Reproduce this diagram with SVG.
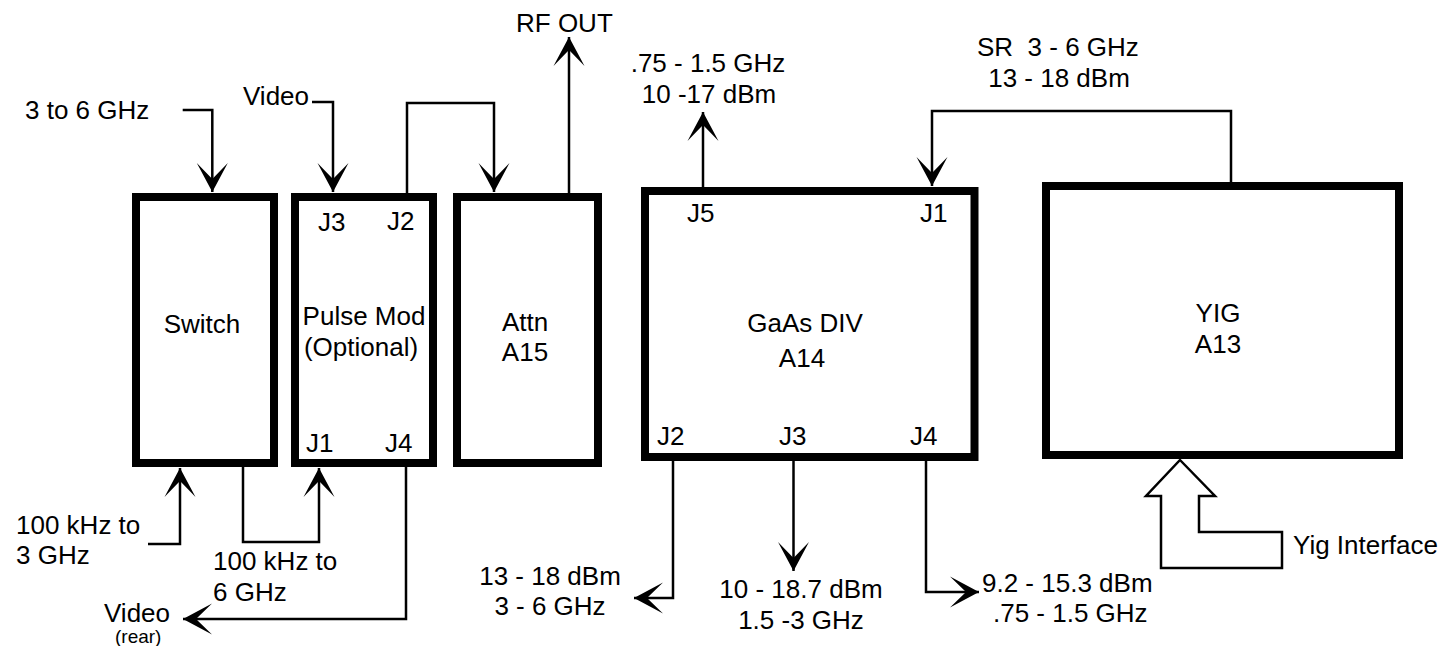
<svg xmlns="http://www.w3.org/2000/svg" width="1450" height="646" viewBox="0 0 1450 646">
<style>
text{font-family:"Liberation Sans",Arial,Helvetica,sans-serif;font-size:26px;fill:#000;white-space:pre}
.c{text-anchor:middle}
.sm{font-size:19px}
.box{fill:#fff;stroke:#000;stroke-width:8;stroke-linejoin:miter}
.ln{fill:none;stroke:#000;stroke-width:2.5;stroke-linejoin:miter}
.arr{marker-end:url(#ah)}
</style>
<defs>
<marker id="ah" viewBox="-31 -17 32 34" markerWidth="32" markerHeight="34" refX="0" refY="0" orient="auto" markerUnits="userSpaceOnUse">
<path d="M0,0 L-29,-15.5 L-13,0 L-29,15.5 Z" fill="#000"/>
</marker>
</defs>
<rect width="1450" height="646" fill="#fff"/>

<g id="connectors">
<path class="ln arr" d="M182.7,110 H212.3 V192"/>
<path class="ln arr" d="M312,102 H333 V192"/>
<path class="ln arr" d="M407,193 V103 H494 V192"/>
<path class="ln arr" d="M569,193 V37"/>
<path class="ln arr" d="M148,544 H180 V468"/>
<path class="ln arr" d="M243,467 V542 H319 V468"/>
<path class="ln arr" d="M406,467 V619 H183"/>
<path class="ln arr" d="M703,187 V112"/>
<path class="ln arr" d="M1231,182 V111 H932 V186"/>
<path class="ln arr" d="M673,461 V598 H634"/>
<path class="ln arr" d="M793.5,461 V571"/>
<path class="ln arr" d="M926,461 V592 H979"/>
<path id="yig-interface-arrow" class="ln" fill="#fff" d="M1180,460 L1215,496 L1199,496 L1199,532 L1282,532 L1282,568 L1161,568 L1161,496 L1146,496 Z"/>
</g>

<g id="switch">
<rect class="box" x="136" y="197" width="138" height="266"/>
<text class="c" x="202" y="333">Switch</text>
</g>

<g id="pulse-mod">
<rect class="box" x="295" y="197" width="138" height="266"/>
<text class="c" x="364" y="325">Pulse Mod</text>
<text class="c" x="361" y="356">(Optional)</text>
<text x="318" y="231">J3</text>
<text x="387" y="230">J2</text>
<text x="306" y="452">J1</text>
<text x="385" y="452">J4</text>
</g>

<g id="attn">
<rect class="box" x="457" y="197" width="141" height="266"/>
<text class="c" x="525" y="331">Attn</text>
<text class="c" x="525" y="361">A15</text>
</g>

<g id="gaas-div">
<rect class="box" x="645" y="191" width="329.5" height="266"/>
<text class="c" x="805" y="332">GaAs DIV</text>
<text class="c" x="802" y="367">A14</text>
<text x="687" y="222">J5</text>
<text x="920" y="222">J1</text>
<text x="657" y="445">J2</text>
<text x="779" y="445">J3</text>
<text x="910" y="445">J4</text>
</g>

<g id="yig">
<rect class="box" x="1046" y="186" width="353" height="269"/>
<text class="c" x="1218" y="322">YIG</text>
<text class="c" x="1218" y="353">A13</text>
</g>

<g id="labels">
<text x="25" y="119">3 to 6 GHz</text>
<text x="243" y="105">Video</text>
<text x="516" y="32">RF OUT</text>
<text class="c" x="708" y="72">.75 - 1.5 GHz</text>
<text class="c" x="709" y="103">10 -17 dBm</text>
<text x="977" y="56">SR  3 - 6 GHz</text>
<text class="c" x="1059" y="87">13 - 18 dBm</text>
<text x="16" y="534">100 kHz to</text>
<text x="16" y="564">3 GHz</text>
<text x="213" y="570">100 kHz to</text>
<text x="213" y="601">6 GHz</text>
<text x="104" y="622">Video</text>
<text class="sm" x="115" y="643">(rear)</text>
<text class="c" x="550" y="585">13 - 18 dBm</text>
<text class="c" x="550" y="615">3 - 6 GHz</text>
<text class="c" x="801" y="598">10 - 18.7 dBm</text>
<text class="c" x="801" y="629">1.5 -3 GHz</text>
<text x="982" y="592">9.2 - 15.3 dBm</text>
<text x="993" y="622">.75 - 1.5 GHz</text>
<text x="1293" y="554">Yig Interface</text>
</g>
</svg>
